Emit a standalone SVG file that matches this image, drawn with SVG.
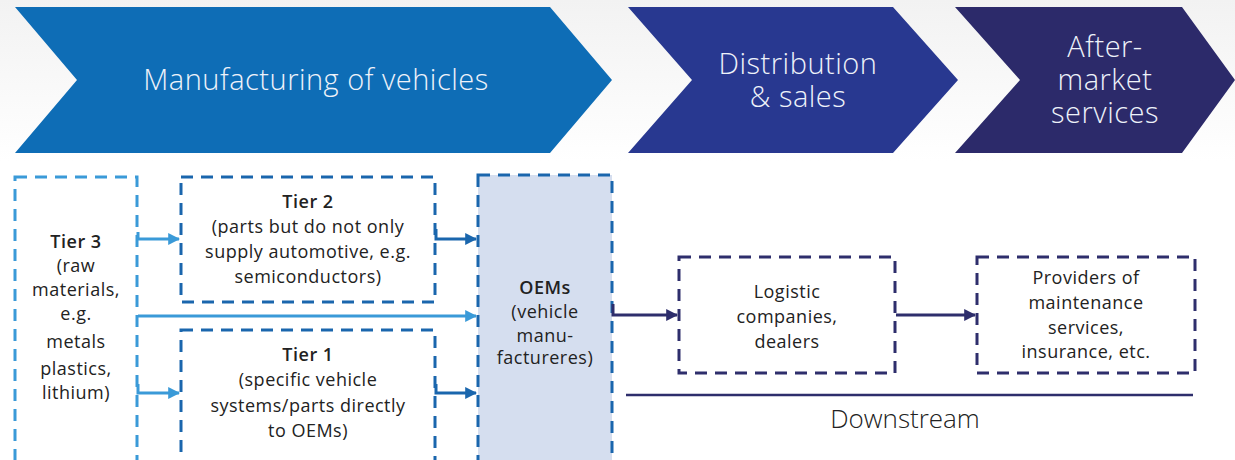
<svg xmlns="http://www.w3.org/2000/svg" width="1235" height="460" viewBox="0 0 1235 460">
<defs>
<linearGradient id="bg" x1="0" y1="0" x2="0" y2="1"><stop offset="0" stop-color="#f2f2f2"/><stop offset="0.35" stop-color="#ffffff"/></linearGradient>
<marker id="aL" viewBox="0 0 10 10" refX="9" refY="5" markerWidth="4" markerHeight="4" orient="auto" markerUnits="strokeWidth"><path d="M0,0 L10,5 L0,10 z" fill="#3a9ad8"/></marker>
<marker id="aM" viewBox="0 0 10 10" refX="9" refY="5" markerWidth="4" markerHeight="4" orient="auto" markerUnits="strokeWidth"><path d="M0,0 L10,5 L0,10 z" fill="#1a66ad"/></marker>
<marker id="aN" viewBox="0 0 10 10" refX="9" refY="5" markerWidth="4" markerHeight="4" orient="auto" markerUnits="strokeWidth"><path d="M0,0 L10,5 L0,10 z" fill="#2e2e6c"/></marker>
</defs>
<style>
.hd{font-family:"Open Sans","Liberation Sans",sans-serif;font-size:29px;letter-spacing:0.5px;fill:#eef2fa;text-anchor:middle;font-weight:300}
.t{font-family:"Open Sans","Liberation Sans",sans-serif;font-size:18px;letter-spacing:0.5px;fill:#222;text-anchor:middle}
.b{font-weight:600}
.box{fill:#ffffff;stroke-width:3;stroke-dasharray:12 8}
.lb{stroke:#3a9ad8}
.mb{stroke:#1a66ad}
.nb{stroke:#2e2e6c}
.c{fill:none;stroke-width:3}
</style>
<rect width="1235" height="460" fill="url(#bg)"/>
<g id="chevron-manufacturing">
<polygon points="15,7 550,7 612,80 550,153 15,153 77,80" fill="#0e6db6"/>
<text class="hd" x="316" y="90">Manufacturing of vehicles</text>
</g>
<g id="chevron-distribution">
<polygon points="628,7 893,7 958,80 893,153 628,153 692,80" fill="#283890"/>
<text class="hd" x="798" y="74">Distribution</text>
<text class="hd" x="798" y="107">&amp; sales</text>
</g>
<g id="chevron-aftermarket">
<polygon points="955,7 1182,7 1235,80 1182,153 955,153 1020,80" fill="#2c2a6a"/>
<text class="hd" x="1105" y="57">After-</text>
<text class="hd" x="1105" y="90">market</text>
<text class="hd" x="1105" y="123">services</text>
</g>
<g id="tier3">
<rect class="box lb" x="15" y="177" width="122" height="290"/>
<text class="t b" x="76" y="248">Tier 3</text>
<text class="t" x="76" y="272">(raw</text>
<text class="t" x="76" y="296">materials,</text>
<text class="t" x="76" y="320">e.g.</text>
<text class="t" x="76" y="348">metals</text>
<text class="t" x="76" y="375">plastics,</text>
<text class="t" x="76" y="399">lithium)</text>
</g>
<g id="tier2">
<rect class="box mb" x="181" y="177" width="254" height="125"/>
<text class="t b" x="308" y="208">Tier 2</text>
<text class="t" x="308" y="233">(parts but do not only</text>
<text class="t" x="308" y="258">supply automotive, e.g.</text>
<text class="t" x="308" y="283">semiconductors)</text>
</g>
<g id="tier1">
<rect class="box mb" x="181" y="330" width="254" height="137"/>
<text class="t b" x="308" y="361">Tier 1</text>
<text class="t" x="308" y="386">(specific vehicle</text>
<text class="t" x="308" y="412">systems/parts directly</text>
<text class="t" x="308" y="437">to OEMs)</text>
</g>
<g id="oems">
<rect class="box mb" x="478" y="175" width="134" height="292" style="fill:#d5deef"/>
<text class="t b" x="545" y="294">OEMs</text>
<text class="t" x="545" y="318">(vehicle</text>
<text class="t" x="545" y="342">manu-</text>
<text class="t" x="545" y="364">factureres)</text>
</g>
<g id="logistic">
<rect class="box nb" x="679" y="257" width="216" height="116"/>
<text class="t" x="787" y="298">Logistic</text>
<text class="t" x="787" y="323">companies,</text>
<text class="t" x="787" y="348">dealers</text>
</g>
<g id="providers">
<rect class="box nb" x="977" y="257" width="218" height="116"/>
<text class="t" x="1086" y="284">Providers of</text>
<text class="t" x="1086" y="309">maintenance</text>
<text class="t" x="1086" y="334">services,</text>
<text class="t" x="1086" y="358">insurance, etc.</text>
</g>
<g id="downstream">
<line x1="626" y1="395" x2="1193" y2="395" stroke="#2e2e6c" stroke-width="2.5"/>
<text x="905" y="428" font-family="'Open Sans','Liberation Sans',sans-serif" font-size="26" fill="#222" text-anchor="middle" font-weight="300">Downstream</text>
</g>
<g id="connectors">
<path class="c" d="M138,232 V239 H179" stroke="#3a9ad8" marker-end="url(#aL)"/>
<path class="c" d="M138,316 H476" stroke="#3a9ad8" marker-end="url(#aL)"/>
<path class="c" d="M138,384 V393 H179" stroke="#3a9ad8" marker-end="url(#aL)"/>
<path class="c" d="M436,229 V239 H476" stroke="#1a66ad" marker-end="url(#aM)"/>
<path class="c" d="M436,384 V393 H476" stroke="#1a66ad" marker-end="url(#aM)"/>
<path class="c" d="M613,304 V315 H677" stroke="#2e2e6c" marker-end="url(#aN)"/>
<path class="c" d="M896,315 H975" stroke="#2e2e6c" marker-end="url(#aN)"/>
</g>
</svg>
